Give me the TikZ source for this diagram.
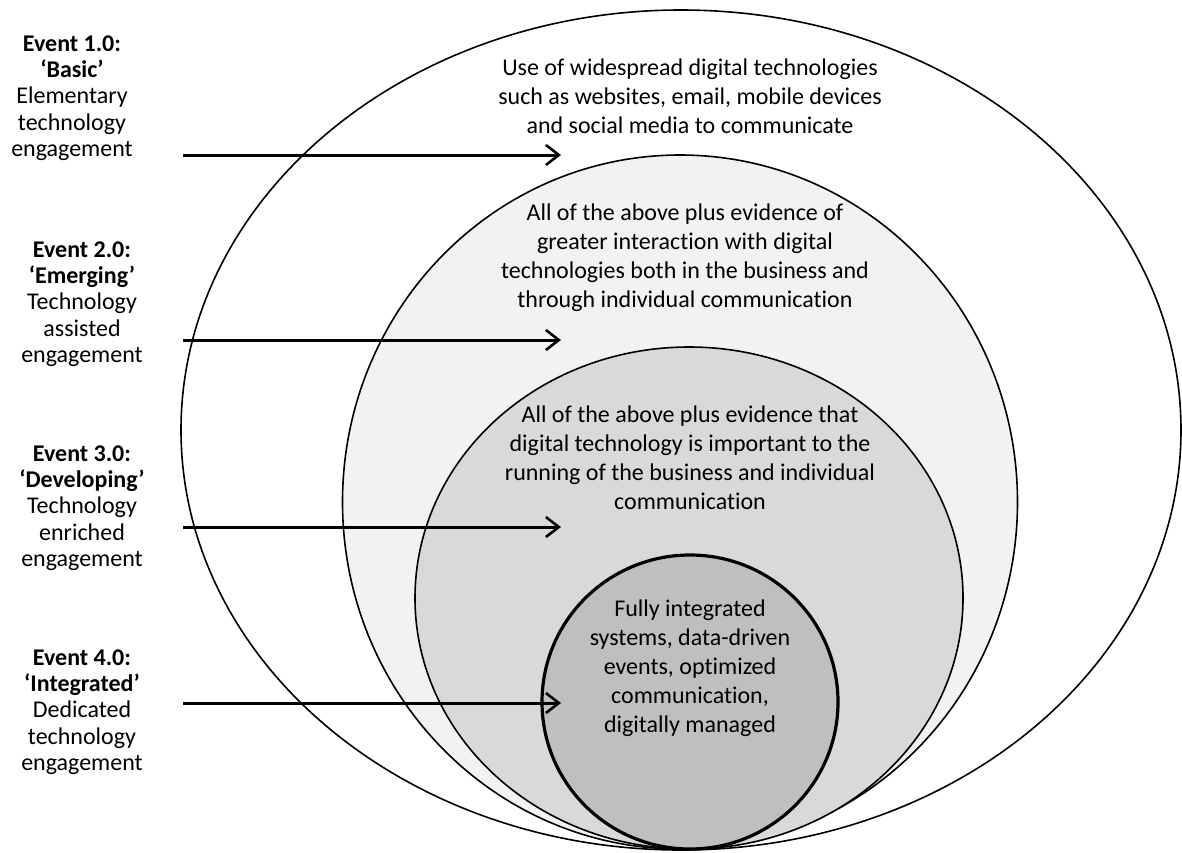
\documentclass[tikz,border=0pt]{standalone}
\usepackage{fontspec}
\setmainfont{Carlito}[RawFeature={-liga;-clig;-dlig}]
\usetikzlibrary{shapes.geometric,arrows.meta}
\begin{document}
\begin{tikzpicture}[x=1pt,y=-1pt,
  ring/.style={ellipse, draw=black, line width=1.6pt, inner sep=0pt},
  lbl/.style={align=center, font=\fontsize{24}{26.4}\selectfont, inner sep=0pt},
  txt/.style={align=center, font=\fontsize{24}{29}\selectfont, inner sep=0pt},
  arr/.style={line width=3pt, -{Straight Barb[length=13pt,width=20pt,line width=2.6pt]}}
]
\useasboundingbox (0,0) rectangle (1182,852);
\node[ring, fill=white, minimum width=1000pt, minimum height=840pt] (e1) at (681,430) {};
\node[ring, fill=black!5, minimum width=675pt, minimum height=694pt] (e2) at (680,502) {};
\node[ring, fill=black!15, minimum width=548pt, minimum height=502pt] (e3) at (689,598) {};
\node[ring, fill=black!25, line width=3.2pt, minimum width=296pt, minimum height=294pt] (e4) at (690,702) {};

\node[txt] (t1) at (690,96) {Use of widespread digital technologies\\such as websites, email, mobile devices\\and social media to communicate};
\node[txt] (t2) at (685,258) {All of the above plus evidence of\\greater interaction with digital\\technologies both in the business and\\through individual communication};
\node[txt] (t3) at (690,458) {All of the above plus evidence that\\digital technology is important to the\\running of the business and individual\\communication};
\node[txt] (t4) at (690,668) {Fully integrated\\systems, data-driven\\events, optimized\\communication,\\digitally managed};

\node[lbl] (l1) at (72,98) {\textbf{Event 1.0:}\\\textbf{‘Basic’}\\Elementary\\technology\\engagement};
\node[lbl] (l2) at (82,304) {\textbf{Event 2.0:}\\\textbf{‘Emerging’}\\Technology\\assisted\\engagement};
\node[lbl] (l3) at (82,508) {\textbf{Event 3.0:}\\\textbf{‘Developing’}\\Technology\\enriched\\engagement};
\node[lbl] (l4) at (82,712) {\textbf{Event 4.0:}\\\textbf{‘Integrated’}\\Dedicated\\technology\\engagement};

\coordinate (s1) at (183,155); \coordinate (f1) at (561,155);
\coordinate (s2) at (183,340); \coordinate (f2) at (561,340);
\coordinate (s3) at (183,527); \coordinate (f3) at (561,527);
\coordinate (s4) at (183,703); \coordinate (f4) at (561,703);
\draw[arr] (s1) -- (f1);
\draw[arr] (s2) -- (f2);
\draw[arr] (s3) -- (f3);
\draw[arr] (s4) -- (f4);
\end{tikzpicture}
\end{document}
